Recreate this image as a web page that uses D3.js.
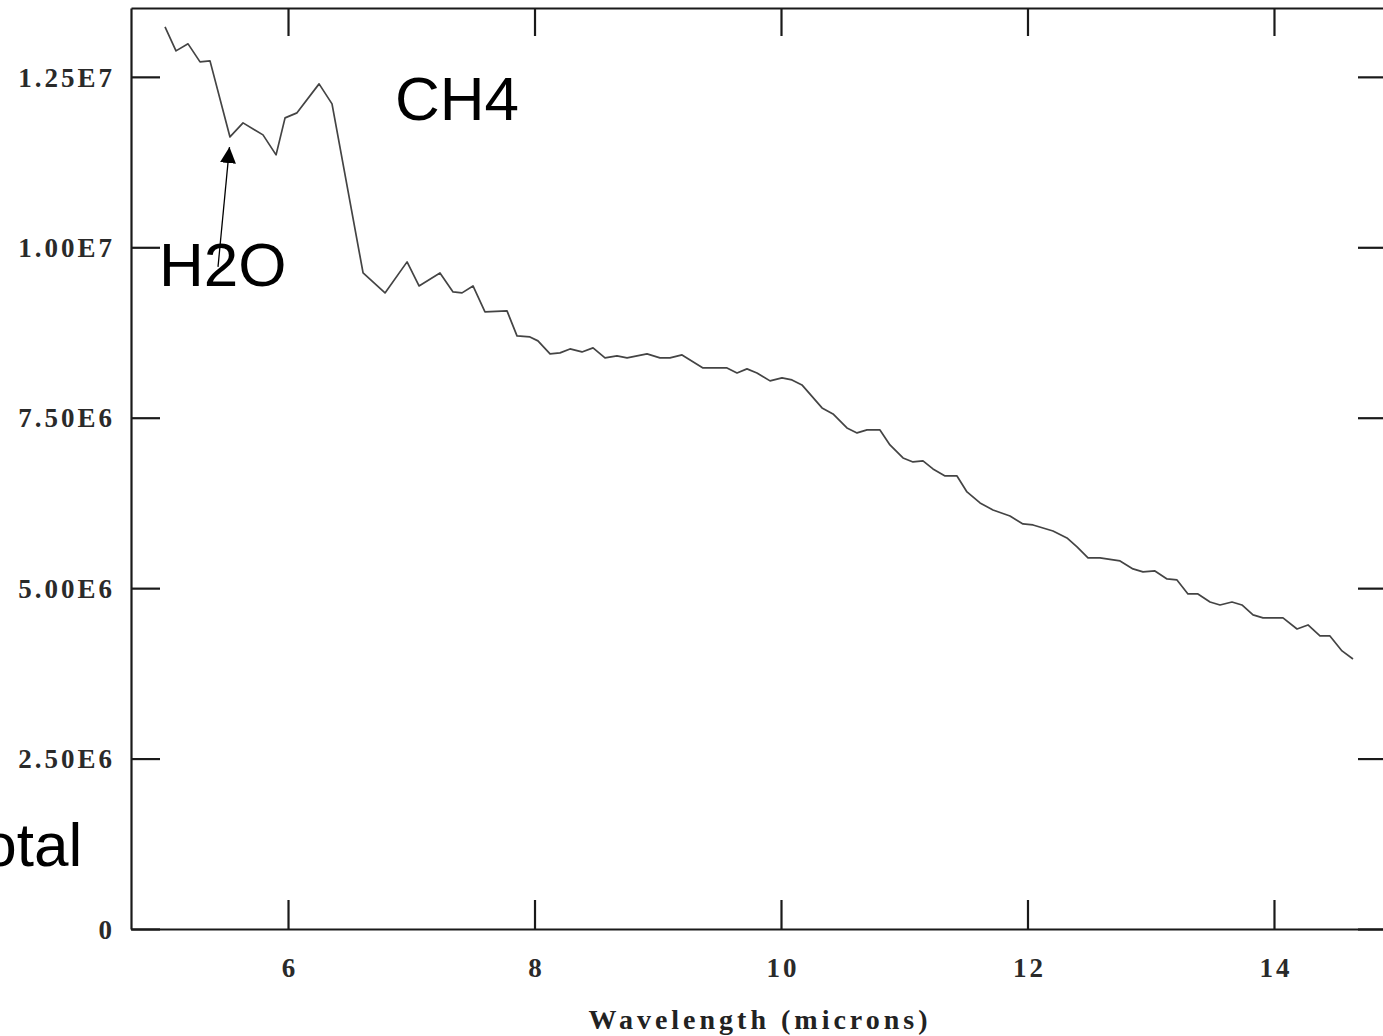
<!DOCTYPE html>
<html>
<head>
<meta charset="utf-8">
<script src="https://cdn.jsdelivr.net/npm/d3@7"></script>
<style>
  html, body { margin: 0; padding: 0; background: #fff; overflow: hidden; }
  svg { display: block; }
</style>
</head>
<body>
<svg id="chart" width="1383" height="1036"></svg>
<script>
// ---- data ----
const wavelength = [5.002,5.091,5.189,5.286,5.367,5.529,5.635,5.797,5.903,5.976,6.073,6.252,6.357,6.609,6.787,6.966,7.063,7.233,7.339,7.412,7.501,7.598,7.777,7.858,7.963,8.028,8.126,8.207,8.288,8.385,8.475,8.572,8.669,8.751,8.913,9.018,9.099,9.197,9.367,9.562,9.643,9.724,9.805,9.911,10.008,10.089,10.170,10.333,10.422,10.535,10.617,10.698,10.803,10.884,10.990,11.071,11.152,11.233,11.331,11.428,11.509,11.615,11.720,11.858,11.963,12.045,12.207,12.320,12.402,12.491,12.588,12.751,12.856,12.937,13.034,13.132,13.213,13.302,13.383,13.481,13.562,13.659,13.740,13.830,13.911,14.073,14.187,14.276,14.373,14.454,14.552,14.641];
const intensity = [13.233,12.881,12.984,12.720,12.734,11.619,11.825,11.649,11.355,11.898,11.972,12.397,12.104,9.624,9.331,9.786,9.433,9.624,9.345,9.331,9.433,9.052,9.067,8.700,8.685,8.627,8.436,8.451,8.509,8.465,8.524,8.377,8.406,8.377,8.436,8.377,8.377,8.421,8.230,8.230,8.157,8.216,8.157,8.040,8.084,8.054,7.981,7.644,7.556,7.350,7.277,7.321,7.321,7.101,6.910,6.851,6.866,6.749,6.646,6.646,6.411,6.250,6.147,6.059,5.942,5.927,5.839,5.736,5.604,5.443,5.443,5.399,5.282,5.238,5.252,5.135,5.120,4.915,4.915,4.797,4.753,4.797,4.753,4.607,4.563,4.563,4.401,4.460,4.299,4.299,4.079,3.961].map(v => v * 1e6);

const xTicks = [6, 8, 10, 12, 14];
const xTickLabels = ["6", "8", "10", "12", "14"];
const yTicks = [0, 2.5e6, 5e6, 7.5e6, 1e7, 1.25e7];
const yTickLabels = ["0", "2.50E6", "5.00E6", "7.50E6", "1.00E7", "1.25E7"];
const xTitle = "Wavelength (microns)";

// annotation labels (positions in data units)
const labelTexts = ["CH4", "H2O", "Total"];
const labelX = [6.868, 4.953, 4.33];
const labelY = [11.87e6, 9.433e6, 0.92e6];
const arrowFrom = [5.432, 9.712e6];
const arrowTo = [5.525, 11.47e6];

// ---- layout ----
const svg = d3.select("#chart");
const mLeft = 131, mRight = 1387, mTop = 8, mBottom = 929;

const x = d3.scaleLinear().domain([4.726, 14.917]).range([mLeft, mRight]);
const y = d3.scaleLinear().domain([0, 13.51e6]).range([mBottom, mTop]);

const axisColor = "#1a1a1a";
const tickFont = "'Liberation Serif', 'Times New Roman', serif";
const tickSpacing = 3;

function styleAxis(g) {
  g.selectAll("path.domain").attr("stroke", axisColor).attr("stroke-width", 2.2);
  g.selectAll(".tick line").attr("stroke", axisColor).attr("stroke-width", 2.2);
  g.selectAll(".tick text")
    .attr("font-family", tickFont).attr("font-size", 27).attr("font-weight", "bold")
    .attr("letter-spacing", tickSpacing)
    .attr("fill", "#2a2a2a");
}

// bottom axis
const gB = svg.append("g").attr("transform", `translate(0,${mBottom})`)
  .call(d3.axisBottom(x).tickValues(xTicks).tickFormat((d, i) => xTickLabels[i]).tickSizeInner(-29).tickSizeOuter(0));
styleAxis(gB);
gB.selectAll(".tick text").attr("y", 48).attr("dy", 0).attr("dx", tickSpacing / 2);

// top axis
const gT = svg.append("g").attr("transform", `translate(0,${mTop})`)
  .call(d3.axisTop(x).tickValues(xTicks).tickFormat("").tickSizeInner(-28).tickSizeOuter(0));
styleAxis(gT);

// left axis
const gL = svg.append("g").attr("transform", `translate(${mLeft},0)`)
  .call(d3.axisLeft(y).tickValues(yTicks).tickFormat((d, i) => yTickLabels[i]).tickSizeInner(-29).tickSizeOuter(0).tickPadding(19 - tickSpacing));
styleAxis(gL);
gL.selectAll(".tick text").attr("dy", "0.34em");

// right axis
const gR = svg.append("g").attr("transform", `translate(${mRight},0)`)
  .call(d3.axisRight(y).tickValues(yTicks).tickFormat("").tickSizeInner(-29).tickSizeOuter(0));
styleAxis(gR);

// x title
svg.append("text")
  .attr("x", 760).attr("y", 1029)
  .attr("text-anchor", "middle")
  .attr("font-family", tickFont).attr("font-size", 28).attr("font-weight", "bold")
  .attr("letter-spacing", 4)
  .attr("fill", "#222")
  .text(xTitle);

// data line
const line = d3.line().x((d, i) => x(wavelength[i])).y((d, i) => y(intensity[i]));
svg.append("path")
  .datum(intensity)
  .attr("d", line)
  .attr("fill", "none")
  .attr("stroke", "#444")
  .attr("stroke-width", 1.7)
  .attr("stroke-linejoin", "round");

// annotations
svg.append("defs").append("marker")
  .attr("id", "arrowhead")
  .attr("viewBox", "0 0 10 10")
  .attr("refX", 10).attr("refY", 5)
  .attr("markerWidth", 16).attr("markerHeight", 16)
  .attr("markerUnits", "userSpaceOnUse")
  .attr("orient", "auto")
  .append("path").attr("d", "M0,0 L10,5 L0,10 Z").attr("fill", "#000");

svg.append("line")
  .attr("x1", x(arrowFrom[0])).attr("y1", y(arrowFrom[1]))
  .attr("x2", x(arrowTo[0])).attr("y2", y(arrowTo[1]))
  .attr("stroke", "#000").attr("stroke-width", 1.3)
  .attr("marker-end", "url(#arrowhead)");

labelTexts.forEach((t, i) => {
  svg.append("text")
    .attr("x", x(labelX[i])).attr("y", y(labelY[i]))
    .attr("text-anchor", t === "Total" ? "end" : "start")
    .attr("font-family", "'Liberation Sans', Arial, sans-serif")
    .attr("font-size", 62)
    .attr("fill", "#000")
    .text(t);
});
</script>
</body>
</html>
